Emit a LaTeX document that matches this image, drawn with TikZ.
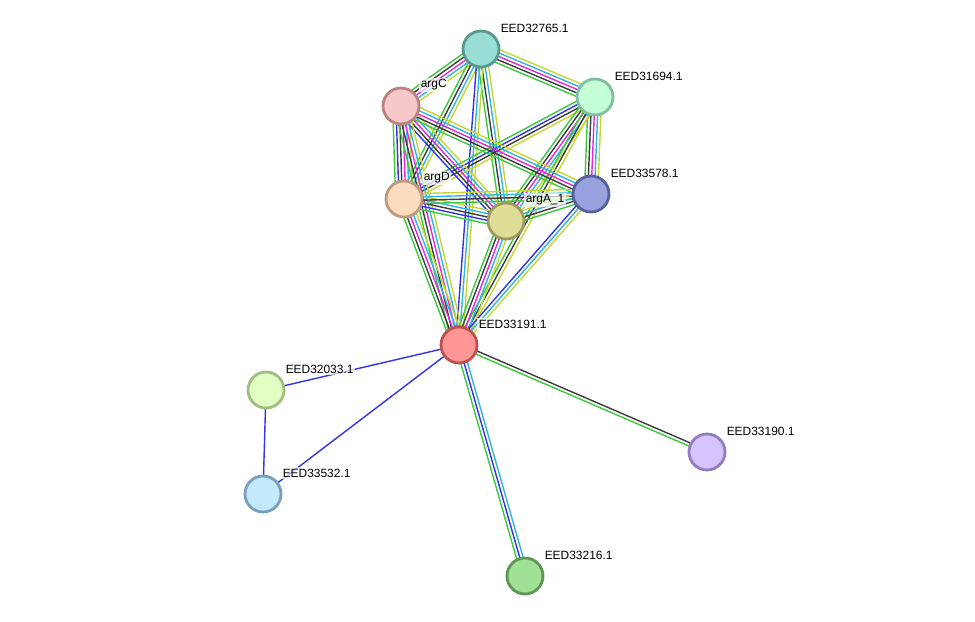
\documentclass[tikz,border=0pt]{standalone}
\usepackage{fontspec}
\setmainfont{Liberation Sans}
\usetikzlibrary{calc,backgrounds}

\definecolor{lkg}{RGB}{60,200,60}
\definecolor{lkb}{RGB}{50,50,240}
\definecolor{lkk}{RGB}{60,60,60}
\definecolor{lkm}{RGB}{225,40,225}
\definecolor{lkc}{RGB}{50,180,225}
\definecolor{lky}{RGB}{195,215,50}

% one STRING link: a bundle of parallel coloured lines
\newcommand{\strlink}[3]{%
  \foreach \col [count=\n] in {#3}{\xdef\nlk{\n}}%
  \foreach \col [count=\i] in {#3}{%
    \pgfmathsetmacro{\off}{(\i-(\nlk+1)/2)*1.9}%
    \draw[link,\col] ($(#1.center)!\off pt!90:(#2.center)$) -- ($(#2.center)!\off pt!-90:(#1.center)$);
  }%
}

\begin{document}
\begin{tikzpicture}[
  x=0.02cm,y=-0.02cm,
  prot/.style={circle,minimum size=0.72cm,inner sep=0pt,line width=1.6pt},
  lbl/.style={anchor=west,font=\fontsize{6.8}{8}\selectfont,fill=white,fill opacity=0.7,text opacity=1,inner sep=0.8pt},
  link/.style={line width=0.8pt}
]
  \useasboundingbox (0,0) rectangle (975,622);

  \node[prot,fill={rgb,255:red,152;green,222;blue,212},draw={rgb,255:red,88;green,152;blue,145}] (n32765) at (481,49) {};
  \node[prot,fill={rgb,255:red,196;green,255;blue,216},draw={rgb,255:red,128;green,192;blue,160}] (n31694) at (595,97) {};
  \node[prot,fill={rgb,255:red,246;green,200;blue,200},draw={rgb,255:red,186;green,130;blue,130}] (argC) at (401,106) {};
  \node[prot,fill={rgb,255:red,152;green,162;blue,222},draw={rgb,255:red,86;green,96;blue,158}] (n33578) at (591,194) {};
  \node[prot,fill={rgb,255:red,252;green,220;blue,190},draw={rgb,255:red,190;green,155;blue,125}] (argD) at (404,199) {};
  \node[prot,fill={rgb,255:red,222;green,222;blue,152},draw={rgb,255:red,155;green,155;blue,95}] (argA) at (506,221) {};
  \node[prot,fill={rgb,255:red,255;green,150;blue,150},draw={rgb,255:red,190;green,80;blue,80}] (n33191) at (459,345) {};
  \node[prot,fill={rgb,255:red,226;green,255;blue,196},draw={rgb,255:red,160;green,190;blue,130}] (n32033) at (266,390) {};
  \node[prot,fill={rgb,255:red,196;green,232;blue,252},draw={rgb,255:red,120;green,160;blue,190}] (n33532) at (263,494) {};
  \node[prot,fill={rgb,255:red,214;green,196;blue,255},draw={rgb,255:red,146;green,126;blue,190}] (n33190) at (707,452) {};
  \node[prot,fill={rgb,255:red,160;green,225;blue,150},draw={rgb,255:red,95;green,150;blue,85}] (n33216) at (525,576) {};

  \begin{scope}[on background layer]
    \strlink{n32765}{n31694}{lkg,lkk,lkm,lkc,lky}
    \strlink{n32765}{argC}{lkg,lkk,lkm,lkc,lky}
    \strlink{n32765}{argD}{lkg,lkk,lkc,lky}
    \strlink{n32765}{argA}{lkg,lkk,lkc,lky}
    \strlink{n32765}{n33191}{lkb,lkc,lky}
    \strlink{n31694}{argD}{lkg,lkb,lkk,lky}
    \strlink{n31694}{argA}{lkg,lkk,lkm,lkc,lky}
    \strlink{n31694}{n33578}{lkg,lkk,lkm,lkc,lky}
    \strlink{n31694}{n33191}{lkg,lkk,lky}
    \strlink{argC}{argD}{lkg,lkb,lkk,lkm,lkc,lky}
    \strlink{argC}{argA}{lkb,lkk,lkm,lkc,lky}
    \strlink{argC}{n33578}{lkg,lkk,lkm,lkc,lky}
    \strlink{argC}{n33191}{lkg,lkk,lkm,lkc,lky}
    \strlink{argD}{argA}{lkg,lkb,lkk,lkc,lky}
    \strlink{argD}{n33578}{lkg,lkk,lkc,lky}
    \strlink{argD}{n33191}{lkg,lkk,lkm,lkc,lky}
    \strlink{argA}{n33578}{lkg,lkk,lkc,lky}
    \strlink{argA}{n33191}{lkg,lkk,lkm,lkc,lky}
    \strlink{n33578}{n33191}{lkb,lkc,lky}
    \strlink{n33191}{n32033}{lkb}
    \strlink{n33191}{n33532}{lkb}
    \strlink{n32033}{n33532}{lkb}
    \strlink{n33191}{n33190}{lkg,lkk}
    \strlink{n33191}{n33216}{lkg,lkb,lkc}
  \end{scope}

  \node[lbl] (t32765) at ($(n32765)+(18,-21)$) {EED32765.1};
  \node[lbl] (t31694) at ($(n31694)+(18,-21)$) {EED31694.1};
  \node[lbl] (targC) at ($(argC)+(18,-21)$) {argC};
  \node[lbl] (t33578) at ($(n33578)+(18,-21)$) {EED33578.1};
  \node[lbl] (targD) at ($(argD)+(18,-21)$) {argD};
  \node[lbl] (targA) at ($(argA)+(18,-21)$) {argA\_1};
  \node[lbl] (t33191) at ($(n33191)+(18,-21)$) {EED33191.1};
  \node[lbl] (t32033) at ($(n32033)+(18,-21)$) {EED32033.1};
  \node[lbl] (t33532) at ($(n33532)+(18,-21)$) {EED33532.1};
  \node[lbl] (t33190) at ($(n33190)+(18,-21)$) {EED33190.1};
  \node[lbl] (t33216) at ($(n33216)+(18,-21)$) {EED33216.1};
\end{tikzpicture}
\end{document}
